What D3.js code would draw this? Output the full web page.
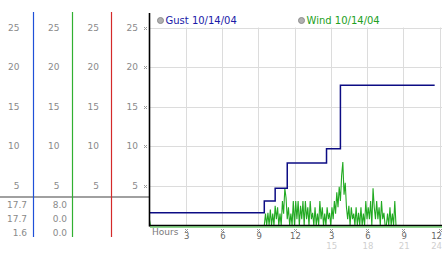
<!DOCTYPE html>
<html>
<head>
<meta charset="utf-8">
<script src="https://cdn.jsdelivr.net/npm/d3@7"></script>
<style>
  body { margin: 0; background: #fff; }
  text { font-family: "DejaVu Sans", Verdana, sans-serif; }
</style>
</head>
<body>
<svg id="drawing_region"></svg>
<script>
// y ticks shared by the side columns and the main plot
var yTicks = [5, 10, 15, 20, 25];
// x ticks (hours since midnight) and their labels
var xTicks = [3, 6, 9, 12, 15, 18, 21, 24];
var xLabels = ['3', '6', '9', '12', '3', '6', '9', '12'];
var xLabels24 = ['', '', '', '', '15', '18', '21', '24'];

// legend
var seriesNames = ['Gust 10/14/04', 'Wind 10/14/04'];

// gust: step function, hours + value
var gustHours = [0, 9.5, 10.4, 11.4, 14.65, 15.8, 23.6];
var gustValues = [1.6, 3.1, 4.7, 7.9, 9.7, 17.7, 17.7];

// wind: readings every 0.1 h from 9.5 h, plus quiet periods
var windStart = 9.5;
var windStep = 0.1;
var windSamples = [
  0, 1.5, 0, 1.6, 0, 2.0, 0, 1.5, 0, 2.5,
  0.8, 2.3, 0, 1.5, 0, 3.1, 1.5, 4.7, 3.5, 0.8,
  2.3, 0, 1.5, 0, 3.1, 0, 3.1, 0.8, 3.1, 0,
  2.5, 0.8, 3.1, 0, 3.1, 0.8, 2.3, 0, 3.1, 0.8,
  1.6, 0, 2.3, 0, 1.5, 0, 3.1, 0.8, 2.3, 0,
  1.5, 0, 2.3, 0.8, 1.6, 0, 2.3, 0.8, 3.1, 1.5,
  4.2, 2.3, 4.9, 3.1, 6.3, 8.0, 3.9, 5.4, 2.3, 0.8,
  2.5, 0, 2.3, 0.8, 1.5, 0, 2.3, 0, 1.6, 0,
  2.3, 0, 1.5, 0, 3.1, 0.8, 2.3, 0.8, 3.1, 0,
  4.7, 2.3, 0.8, 3.1, 0.8, 2.3, 0, 3.1, 0.8, 1.6,
  0, 0, 1.5, 0, 2.3, 0, 1.5, 0, 3.1, 0
];
var windLead = [[0, 0.7], [0.08, 0], [9.4, 0]];
var windTail = [[23.7, 0]];

// side columns: max / current / min
var gustStats = ['17.7', '17.7', '1.6'];
var windStats = ['8.0', '0.0', '0.0'];

var width = 442, height = 253;
var svg = d3.select('#drawing_region')
    .attr('width', width)
    .attr('height', height);

var x = d3.scaleLinear().domain([0, 24]).range([149.5, 439.5]);
var y = d3.scaleLinear().domain([0, 25]).range([225.5, 27.5]);

var windData = windLead
    .concat(windSamples.map((v, i) => [windStart + i * windStep, v]))
    .concat(windTail);
var gustData = gustHours.map((h, i) => [h, gustValues[i]]);

// grid
svg.append('g').selectAll('line').data(yTicks).join('line')
    .attr('x1', 150).attr('x2', width)
    .attr('y1', d => Math.round(y(d)) + 0.5).attr('y2', d => Math.round(y(d)) + 0.5)
    .attr('stroke', '#dcdcdc');
svg.append('g').selectAll('line').data(xTicks).join('line')
    .attr('x1', d => Math.round(x(d)) + 0.5).attr('x2', d => Math.round(x(d)) + 0.5)
    .attr('y1', y(25)).attr('y2', y(0))
    .attr('stroke', '#dcdcdc');

// side panel
var colEnds = [19.5, 59.5, 99, 138];
var colLines = [{x: 33.5, c: '#1f50d8'}, {x: 72.5, c: '#30b030'}, {x: 111.5, c: '#d42a2a'}];
colEnds.forEach(function (cx) {
  svg.append('g').selectAll('text').data(yTicks).join('text')
      .attr('x', cx).attr('y', d => y(d))
      .attr('dy', '0.35em')
      .attr('text-anchor', 'end')
      .attr('font-size', 9)
      .attr('fill', '#8a8a8a')
      .text(d => d);
});
svg.append('line')
    .attr('x1', 0).attr('x2', 150).attr('y1', 197).attr('y2', 197)
    .attr('stroke', '#a0a0a0').attr('stroke-width', 2);
svg.append('g').selectAll('line').data(colLines).join('line')
    .attr('x1', d => d.x).attr('x2', d => d.x)
    .attr('y1', 12).attr('y2', 237)
    .attr('stroke', d => d.c).attr('stroke-width', 1.2);
svg.append('g').selectAll('text').data(gustStats).join('text')
    .attr('x', 27).attr('y', (d, i) => 205 + i * 14)
    .attr('dy', '0.35em').attr('text-anchor', 'end')
    .attr('font-size', 9).attr('fill', '#8a8a8a')
    .text(d => d);
svg.append('g').selectAll('text').data(windStats).join('text')
    .attr('x', 67).attr('y', (d, i) => 205 + i * 14)
    .attr('dy', '0.35em').attr('text-anchor', 'end')
    .attr('font-size', 9).attr('fill', '#8a8a8a')
    .text(d => d);

// little tick markers
function marker(g, mx, my) {
  [[-1, -1], [1, -1], [0, 0], [-1, 1], [1, 1]].forEach(function (p) {
    g.append('rect')
        .attr('x', Math.round(mx) + p[0]).attr('y', Math.round(my) + p[1])
        .attr('width', 1).attr('height', 1)
        .attr('fill', '#9a9a9a');
  });
}
var marks = svg.append('g');
yTicks.forEach(d => marker(marks, 145, y(d)));
xTicks.forEach(d => marker(marks, x(d), 230));

// x labels (last one kept inside the frame)
var lastTick = xTicks[xTicks.length - 1];
function labelX(d) { return d === lastTick ? width : x(d) + 1; }
function labelAnchor(d) { return d === lastTick ? 'end' : 'middle'; }
svg.append('g').selectAll('text').data(xTicks).join('text')
    .attr('x', labelX).attr('y', 236.5)
    .attr('dy', '0.35em').attr('text-anchor', labelAnchor)
    .attr('font-size', 8.5).attr('fill', '#666')
    .text((d, i) => xLabels[i]);
svg.append('g').selectAll('text').data(xTicks).join('text')
    .attr('x', labelX).attr('y', 246.5)
    .attr('dy', '0.35em').attr('text-anchor', labelAnchor)
    .attr('font-size', 8.5).attr('fill', '#cfcfcf')
    .text((d, i) => xLabels24[i]);
svg.append('text')
    .attr('x', 152).attr('y', 231.5).attr('dy', '0.35em')
    .attr('font-size', 9).attr('fill', '#7a7a7a')
    .text('Hours');

// series
var line = d3.line().x(d => x(d[0])).y(d => y(d[1]));
svg.append('path')
    .attr('d', line(windData))
    .attr('fill', 'none').attr('stroke', '#22aa22').attr('stroke-width', 1.1);
svg.append('path')
    .attr('d', line.curve(d3.curveStepAfter)(gustData))
    .attr('fill', 'none').attr('stroke', '#0c0c84').attr('stroke-width', 1.5);

// axes lines
svg.append('line')
    .attr('x1', 149.5).attr('x2', 149.5).attr('y1', 13).attr('y2', 226.5)
    .attr('stroke', '#000').attr('stroke-width', 1.6);
svg.append('line')
    .attr('x1', 149).attr('x2', width).attr('y1', 225.5).attr('y2', 225.5)
    .attr('stroke', '#000').attr('stroke-width', 1.6);
svg.append('line')
    .attr('x1', 150).attr('x2', width).attr('y1', 227).attr('y2', 227)
    .attr('stroke', '#22aa22').attr('stroke-width', 1);

// legend
var legX = [160.5, 301.5];
var legC = ['#1a1aa8', '#22a022'];
seriesNames.forEach(function (name, i) {
  svg.append('circle')
      .attr('cx', legX[i]).attr('cy', 20.5).attr('r', 3)
      .attr('fill', '#b0b0b0').attr('stroke', '#8c8c8c');
  svg.append('text')
      .attr('x', legX[i] + 5).attr('y', 20.5).attr('dy', '0.35em')
      .attr('font-size', 10).attr('fill', legC[i])
      .text(name);
});
</script>
</body>
</html>
